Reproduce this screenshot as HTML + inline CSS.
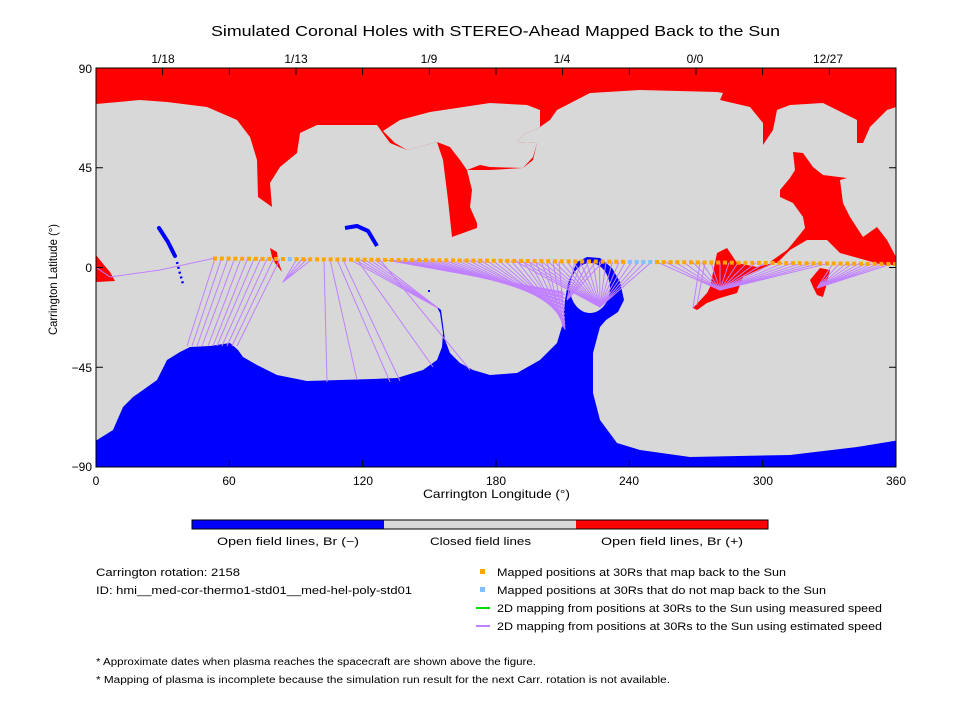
<!DOCTYPE html>
<html><head><meta charset="utf-8"><style>
body{margin:0;background:#fff;width:960px;height:720px;overflow:hidden}
svg{display:block}
text{font-family:"Liberation Sans",sans-serif;fill:#000}
</style></head><body>
<svg id="s" width="960" height="720" xmlns="http://www.w3.org/2000/svg">
<text x="211" y="36" font-size="15" textLength="569" lengthAdjust="spacingAndGlyphs">Simulated Coronal Holes with STEREO-Ahead Mapped Back to the Sun</text>
<defs><clipPath id="c"><rect x="96" y="68" width="800" height="399"/></clipPath></defs>
<g clip-path="url(#c)">
<rect x="96" y="68" width="800" height="399" fill="#d8d8d8"/>
<path fill="#ff0000" d="M90,60 L900,60 L900,107 L896,107 L887,110 L870,127 L863,143 L857,143 L857,120 L823,103 L790,105 L777,110 L773,130 L763,145 L763,123 L750,107 L720,100 L723,93 L717,92 L640,90 L590,93 L557,110 L550,120 L540,127 L523,135 L517,142 L537,143 L533,160 L523,168 L490,170 L467,170 L472,190 L470,207 L477,223 L477,228 L452,237 L448,200 L443,160 L437,142 L407,150 L390,143 L382,132 L377,125 L317,125 L300,133 L297,153 L280,167 L270,183 L272,207 L258,197 L257,160 L250,137 L237,120 L207,107 L167,102 L140,100 L96,104 L90,104 Z"/>
<path fill="#d8d8d8" d="M383,131 L400,120 L430,112 L470,106 L490,103 L527,105 L540,110 L540,127 L523,135 L517,142 L537,143 L533,157 L523,168 L490,167 L480,165 L467,170 L460,160 L450,147 L437,142 L407,150 L395,143 Z"/>
<path fill="#ff0000" d="M96,255 L104,265 L110,272 L115,281 L96,282 Z"/>
<path fill="#ff0000" d="M270,248 L277,252 L278,260 L282,272 L275,263 L272,257 Z"/>
<path fill="#ff0000" d="M793,152 L803,153 L813,167 L823,175 L847,178 L840,180 L843,203 L850,217 L863,237 L877,227 L887,240 L896,257 L896,265 L883,265 L840,253 L827,240 L807,240 L790,250 L777,263 L770,262 L787,250 L793,243 L805,228 L803,217 L793,203 L780,197 L780,190 L790,178 L795,170 Z"/>
<path fill="#ff0000" d="M693,308 L707,293 L710,287 L717,253 L727,248 L737,263 L757,267 L773,263 L743,277 L737,293 L720,298 L707,303 L697,310 Z"/>
<path fill="#ff0000" d="M810,280 L820,268 L830,270 L827,283 L823,297 L817,295 L813,287 Z"/>
<path fill="#0000ff" d="M90,440 L97,440 L113,430 L123,407 L133,397 L143,390 L157,380 L167,360 L180,352 L190,347 L210,346 L230,343 L238,350 L243,357 L257,365 L277,375 L307,381 L340,380 L373,379 L397,378 L423,370 L437,360 L442,347 L443,333 L440,313 L437,307 L441,310 L445,340 L450,353 L460,363 L473,370 L490,375 L517,373 L540,360 L557,343 L563,323 L565,300 L568,283 L577,262 L587,257 L600,258 L612,268 L620,282 L624,300 L618,312 L606,320 L600,327 L593,353 L593,393 L600,420 L617,443 L640,450 L690,457 L790,455 L857,447 L900,440 L900,470 L90,470 Z"/>
<ellipse cx="590" cy="288" rx="20" ry="25" fill="#d8d8d8"/>
<path d="M159,228 L168,242 L175,256" stroke="#0000ff" stroke-width="4" fill="none" stroke-linecap="round"/>
<path d="M177,262 L179,270 L181,277 L183,284" stroke="#0000ff" stroke-width="2.5" fill="none" stroke-dasharray="2,3"/>
<path d="M345,228 L357,226 L368,231 L377,246" stroke="#0000ff" stroke-width="4" fill="none"/>
<rect x="428" y="290" width="2" height="2" fill="#0000ff"/>
<g id="lines" stroke="#c080ff" stroke-width="1" fill="none"></g>
<g id="dots"></g>
</g>
<rect x="96" y="68" width="800" height="399" fill="none" stroke="#000" stroke-width="1"/>
<g id="ticks" stroke="#000" stroke-width="1"></g>
<g font-size="12">
<text x="96" y="485" text-anchor="middle">0</text><text x="229" y="485" text-anchor="middle">60</text><text x="363" y="485" text-anchor="middle">120</text><text x="496" y="485" text-anchor="middle">180</text><text x="629" y="485" text-anchor="middle">240</text><text x="763" y="485" text-anchor="middle">300</text><text x="896" y="485" text-anchor="middle">360</text>
<text x="163" y="63" text-anchor="middle">1/18</text><text x="296" y="63" text-anchor="middle">1/13</text><text x="429" y="63" text-anchor="middle">1/9</text><text x="562" y="63" text-anchor="middle">1/4</text><text x="695" y="63" text-anchor="middle">0/0</text><text x="828" y="63" text-anchor="middle">12/27</text>
<text x="92" y="73" text-anchor="end">90</text><text x="92" y="172" text-anchor="end">45</text><text x="92" y="272" text-anchor="end">0</text><text x="92" y="372" text-anchor="end">−45</text><text x="92" y="471" text-anchor="end">−90</text>
<text x="423" y="498" textLength="147" lengthAdjust="spacingAndGlyphs">Carrington Longitude (°)</text>
<text transform="translate(57,335) rotate(-90)" textLength="111" lengthAdjust="spacingAndGlyphs">Carrington Latitude (°)</text>
</g>
<rect x="192" y="520" width="192" height="9" fill="#0000ff"/><rect x="384" y="520" width="192" height="9" fill="#d8d8d8"/><rect x="576" y="520" width="192" height="9" fill="#ff0000"/>
<rect x="192" y="520" width="576" height="9" fill="none" stroke="#000"/>
<g font-size="11">
<text x="217" y="545" textLength="142" lengthAdjust="spacingAndGlyphs">Open field lines, Br (−)</text>
<text x="430" y="545" textLength="101" lengthAdjust="spacingAndGlyphs">Closed field lines</text>
<text x="601" y="545" textLength="142" lengthAdjust="spacingAndGlyphs">Open field lines, Br (+)</text>
<text x="96" y="576" textLength="144" lengthAdjust="spacingAndGlyphs">Carrington rotation: 2158</text>
<text x="96" y="594" textLength="316" lengthAdjust="spacingAndGlyphs">ID: hmi__med-cor-thermo1-std01__med-hel-poly-std01</text>
<rect x="480" y="569" width="5" height="5" fill="#ffa500"/><text x="497" y="576" textLength="289" lengthAdjust="spacingAndGlyphs">Mapped positions at 30Rs that map back to the Sun</text>
<rect x="480" y="587" width="5" height="5" fill="#80c0ff"/><text x="497" y="594" textLength="329" lengthAdjust="spacingAndGlyphs">Mapped positions at 30Rs that do not map back to the Sun</text>
<line x1="476" y1="608" x2="490" y2="608" stroke="#00e000" stroke-width="2"/><text x="497" y="612" textLength="385" lengthAdjust="spacingAndGlyphs">2D mapping from positions at 30Rs to the Sun using measured speed</text>
<line x1="476" y1="626" x2="490" y2="626" stroke="#c080ff" stroke-width="2"/><text x="497" y="630" textLength="385" lengthAdjust="spacingAndGlyphs">2D mapping from positions at 30Rs to the Sun using estimated speed</text>
</g>
<g font-size="10">
<text x="96" y="665" textLength="440" lengthAdjust="spacingAndGlyphs">* Approximate dates when plasma reaches the spacecraft are shown above the figure.</text>
<text x="96" y="683" textLength="574" lengthAdjust="spacingAndGlyphs">* Mapping of plasma is incomplete because the simulation run result for the next Carr. rotation is not available.</text>
</g>
</svg>
<script>
var NS="http://www.w3.org/2000/svg";
function el(p,t,a){var e=document.createElementNS(NS,t);for(var k in a)e.setAttribute(k,a[k]);document.getElementById(p).appendChild(e);}
function yAt(x){return 258.5+(x-215)*(5.5/681);}
function L(x1,x2,y2){el("lines","line",{x1:x1,y1:yAt(x1),x2:x2,y2:y2});}
el("lines","polyline",{points:"97,268 110,277 160,270 215,258"});
var ends=[187,192,197,202,208,213,217,222,227,232,237];
for(var i=0;i<ends.length;i++)L(215+i*6.5,ends[i],346);
for(var i=0;i<4;i++)L(297+i*5,283,282);
L(324,327,382);L(330,357,380);L(337,390,382);L(343,400,381);L(357,433,367);L(380,470,370);
for(var i=0;i<6;i++)L(350+i*5,438,308);
for(var i=0;i<30;i++)L(385+i*6,563+(i%3),292+i*1.3);
for(var i=0;i<22;i++)L(515+i*6.5,600,307);
for(var i=0;i<5;i++)L(575+i*7,567,300);
for(var i=0;i<20;i++)L(657+i*9,720,290);
L(700,693,308);L(705,697,305);
for(var i=0;i<10;i++)L(833+i*6.5,817,288);
for(var x=215;x<=896;x+=6.8){var lb=(x>284&&x<291)||(x>628&&x<655);el("dots","rect",{x:x-2,y:yAt(x)-2,width:4,height:4,fill:lb?"#80c0ff":"#ffa500"});}
for(var i=0;i<=6;i++){var x=96+i*800/6;el("ticks","line",{x1:x,y1:467,x2:x,y2:460});}
for(var i=1;i<12;i++){var x=96+i*800/12;el("ticks","line",{x1:x,y1:68,x2:x,y2:75});}
[167.75,267.5,367.25].forEach(function(y){el("ticks","line",{x1:96,y1:y,x2:103,y2:y});el("ticks","line",{x1:896,y1:y,x2:889,y2:y});});
</script>
</body></html>
